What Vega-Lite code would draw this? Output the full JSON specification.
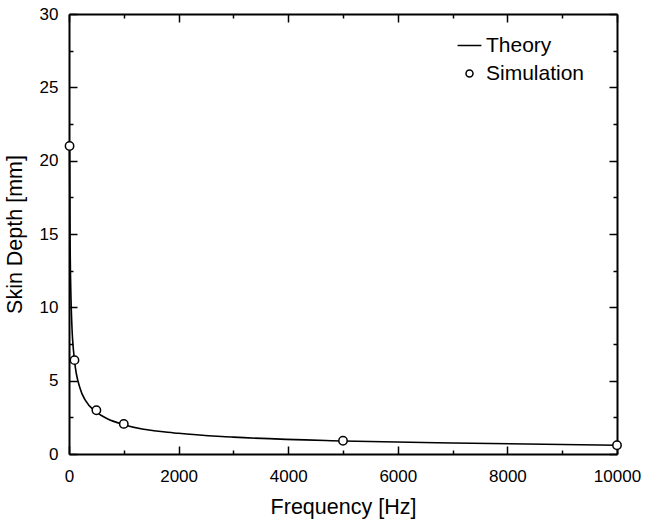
{
  "$schema": "https://vega.github.io/schema/vega-lite/v6.json",
  "width": 548,
  "height": 440,
  "autosize": {"type": "none"},
  "padding": {"left": 69, "top": 14, "right": 30, "bottom": 70},
  "background": "white",
  "config": {
    "view": {"stroke": null},
    "font": "Liberation Sans",
    "axis": {
      "grid": false,
      "domainColor": "black",
      "domainWidth": 2,
      "tickColor": "black",
      "tickWidth": 1.5,
      "labelFont": "Liberation Sans",
      "labelFontSize": 17,
      "labelColor": "black",
      "labelFlush": false,
      "titleFont": "Liberation Sans",
      "titleFontSize": 21.5,
      "titleFontWeight": "normal",
      "titleColor": "black"
    }
  },
  "datasets": {
    "theory": [
      {"frequency": 10, "depth": 21.0, "series": "Theory"},
      {"frequency": 20, "depth": 14.3, "series": "Theory"},
      {"frequency": 50, "depth": 9.0, "series": "Theory"},
      {"frequency": 100, "depth": 6.4, "series": "Theory"},
      {"frequency": 200, "depth": 4.5, "series": "Theory"},
      {"frequency": 300, "depth": 3.65, "series": "Theory"},
      {"frequency": 500, "depth": 2.85, "series": "Theory"},
      {"frequency": 700, "depth": 2.4, "series": "Theory"},
      {"frequency": 1000, "depth": 2.0, "series": "Theory"},
      {"frequency": 2000, "depth": 1.41, "series": "Theory"},
      {"frequency": 3000, "depth": 1.15, "series": "Theory"},
      {"frequency": 5000, "depth": 0.89, "series": "Theory"},
      {"frequency": 7000, "depth": 0.75, "series": "Theory"},
      {"frequency": 10000, "depth": 0.6, "series": "Theory"}
    ],
    "simulation": [
      {"frequency": 10, "depth": 21.0, "series": "Simulation"},
      {"frequency": 100, "depth": 6.4, "series": "Simulation"},
      {"frequency": 500, "depth": 2.98, "series": "Simulation"},
      {"frequency": 1000, "depth": 2.05, "series": "Simulation"},
      {"frequency": 5000, "depth": 0.9, "series": "Simulation"},
      {"frequency": 10000, "depth": 0.6, "series": "Simulation"}
    ]
  },
  "resolve": {"axis": {"x": "independent", "y": "independent"}},
  "layer": [
    {
      "data": {"name": "theory"},
      "mark": {"type": "line", "color": "black", "strokeWidth": 1.6, "interpolate": "monotone"},
      "encoding": {
        "x": {"field": "frequency", "type": "quantitative",
              "scale": {"domain": [0, 10000], "nice": false, "zero": false},
              "axis": {"orient": "bottom", "values": [0, 2000, 4000, 6000, 8000, 10000], "format": "d", "tickSize": -8, "labelPadding": 22, "title": "Frequency [Hz]", "titlePadding": 12}},
        "y": {"field": "depth", "type": "quantitative",
              "scale": {"domain": [0, 30], "nice": false},
              "axis": {"orient": "left", "values": [0, 5, 10, 15, 20, 25, 30], "format": "d", "tickSize": -8, "labelPadding": 19, "title": "Skin Depth [mm]", "titlePadding": 13}}
      }
    },
    {
      "data": {"name": "simulation"},
      "mark": {"type": "point", "filled": true, "fill": "white", "stroke": "black", "strokeWidth": 1.5, "size": 70, "opacity": 1},
      "encoding": {
        "x": {"field": "frequency", "type": "quantitative",
              "axis": {"orient": "top", "values": [0, 2000, 4000, 6000, 8000, 10000], "tickSize": -8, "labels": false, "title": null}},
        "y": {"field": "depth", "type": "quantitative",
              "axis": {"orient": "right", "values": [0, 5, 10, 15, 20, 25, 30], "tickSize": -8, "labels": false, "title": null}},
        "shape": {"field": "series", "type": "nominal",
                  "scale": {"domain": ["Theory", "Simulation"], "range": ["M-3.4,0H3.4", "circle"]},
                  "legend": {"orient": "none", "legendX": 390, "legendY": 21, "title": null,
                             "symbolSize": 49,
                             "labelFont": "Liberation Sans", "labelFontSize": 21, "labelColor": "black", "rowPadding": 6, "labelOffset": 6,
                             "encode": {"symbols": {"update": {"stroke": {"value": "black"}, "fill": {"value": "white"}, "strokeWidth": {"value": 1.9}, "opacity": {"value": 1}}}}}}
      }
    },
    {
      "data": {"name": "simulation"},
      "mark": {"type": "point", "opacity": 0},
      "encoding": {
        "x": {"field": "frequency", "type": "quantitative",
              "axis": {"orient": "bottom", "values": [1000, 3000, 5000, 7000, 9000], "tickSize": -4, "labels": false, "domain": false, "title": null}},
        "y": {"field": "depth", "type": "quantitative",
              "axis": {"orient": "left", "values": [2.5, 7.5, 12.5, 17.5, 22.5, 27.5], "tickSize": -4, "labels": false, "domain": false, "title": null}}
      }
    },
    {
      "data": {"name": "simulation"},
      "mark": {"type": "point", "opacity": 0},
      "encoding": {
        "x": {"field": "frequency", "type": "quantitative",
              "axis": {"orient": "top", "values": [1000, 3000, 5000, 7000, 9000], "tickSize": -4, "labels": false, "domain": false, "title": null}},
        "y": {"field": "depth", "type": "quantitative",
              "axis": {"orient": "right", "values": [2.5, 7.5, 12.5, 17.5, 22.5, 27.5], "tickSize": -4, "labels": false, "domain": false, "title": null}}
      }
    }
  ]
}
